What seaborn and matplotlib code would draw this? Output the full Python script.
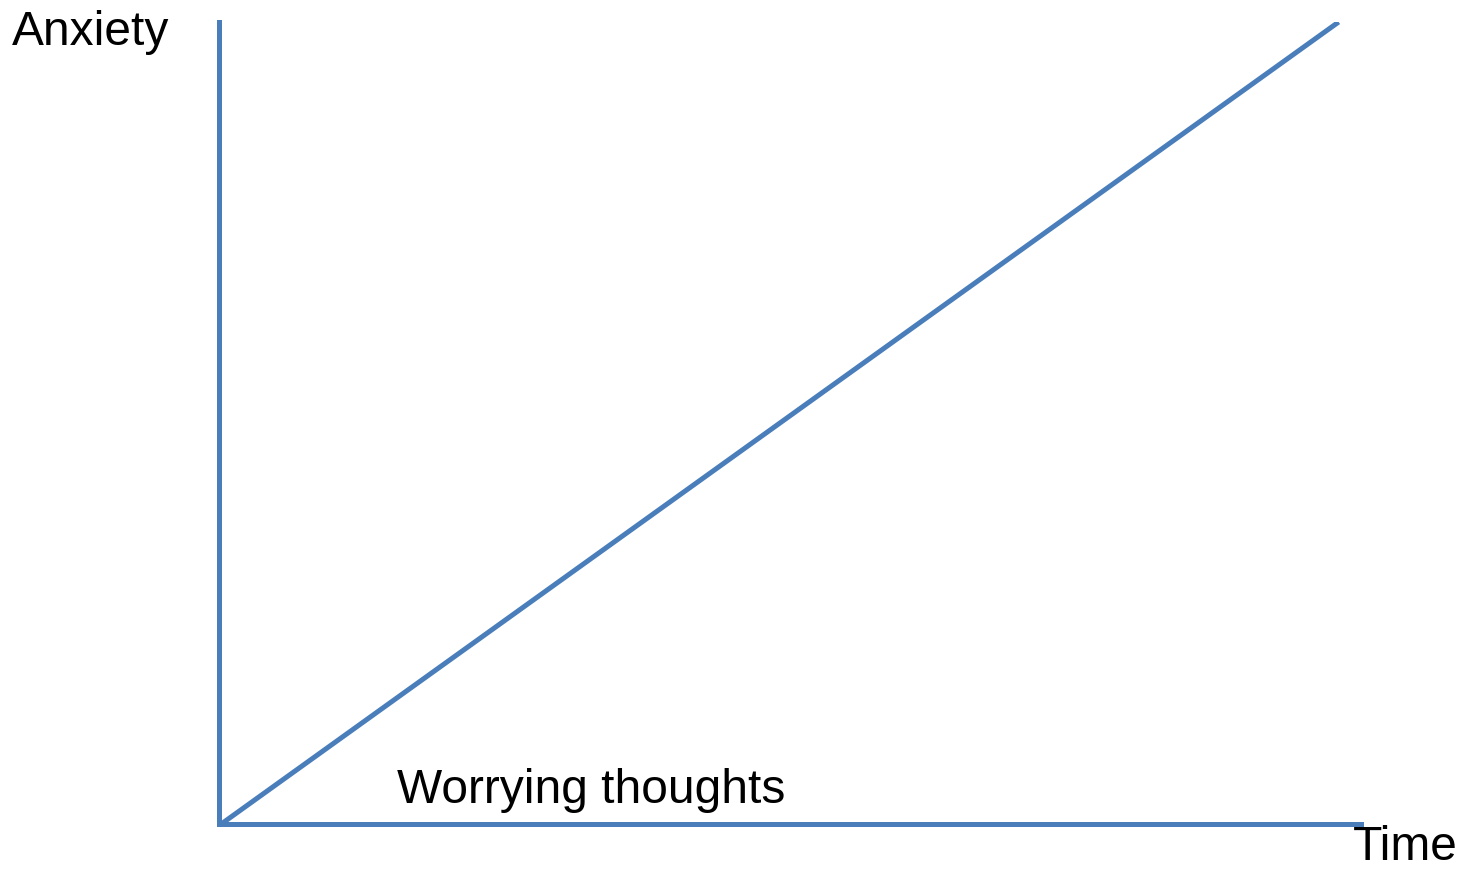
import matplotlib
matplotlib.use("Agg")
import matplotlib.pyplot as plt
import seaborn as sns
import pandas as pd

# Worry curve: anxiety rises steadily over time
time = [0, 10]
anxiety = [0, 10]
x_label = "Time"
y_label = "Anxiety"
line_label = "Worrying thoughts"

sns.set_theme(style="white")
plt.rcParams["font.family"] = ["Liberation Sans", "DejaVu Sans"]

W, H, DPI = 1464, 872, 100
fig = plt.figure(figsize=(W / DPI, H / DPI), dpi=DPI)
fig.patch.set_facecolor("white")

blue = "#4a7ebb"

# axes box in pixel terms: origin at (221, 824), top at y=22, right end at x=1361
left_px, right_px, top_px, bottom_px = 219, 1361, 22, 824
ax = fig.add_axes([left_px / W, (H - bottom_px) / H,
                   (right_px - left_px) / W, (bottom_px - top_px) / H])

df = pd.DataFrame({"time": time, "anxiety": anxiety})
sns.lineplot(data=df, x="time", y="anxiety", ax=ax, color=blue,
             linewidth=3.6, solid_capstyle="butt")

ax.set_xlim(-0.02, 10.2)
ax.set_ylim(0, 10)
ax.set_xticks([])
ax.set_yticks([])
ax.set_xlabel("")
ax.set_ylabel("")
for side in ("top", "right"):
    ax.spines[side].set_visible(False)
for side in ("left", "bottom"):
    ax.spines[side].set_color(blue)
    ax.spines[side].set_linewidth(3.6)
ax.patch.set_alpha(0)

fs = 34.5
fig.text(12 / W, 1 - 45 / H, y_label, fontsize=fs, color="black",
         ha="left", va="baseline")
fig.text(1458 / W, 1 - 870 / H, x_label, fontsize=fs, color="black",
         ha="right", va="bottom")
fig.text(397 / W, 1 - 803 / H, line_label, fontsize=fs, color="black",
         ha="left", va="baseline")

fig.savefig("out.png", dpi=DPI, facecolor="white")
